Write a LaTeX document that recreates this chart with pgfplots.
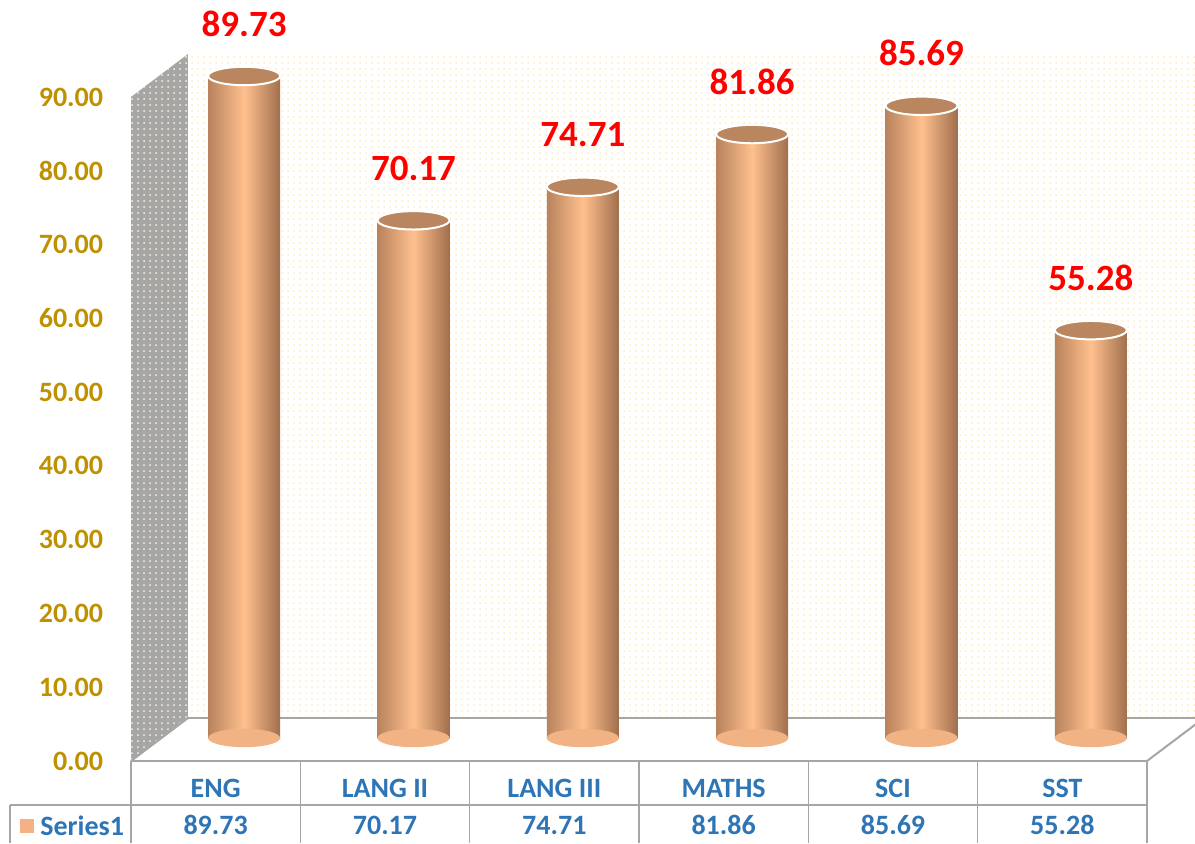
\documentclass[border=0pt]{standalone}
\usepackage{pgfplots}
\pgfplotsset{compat=1.18}
\usepackage{pgfplotstable}
\usepackage{fontspec}
\setmainfont{Carlito}
\usetikzlibrary{patterns}

\definecolor{cylL}{HTML}{B8835D}
\definecolor{cylM}{HTML}{FFC08E}
\definecolor{cylR}{HTML}{A06F4D}
\definecolor{cyltop}{HTML}{BA865F}
\definecolor{cylbase}{HTML}{F2B384}
\definecolor{gold}{HTML}{BF9000}
\definecolor{xblue}{HTML}{2E75B6}
\definecolor{wallgray}{HTML}{A6A6A6}
\definecolor{linegray}{HTML}{A6A6A6}
\definecolor{dotyellow}{HTML}{FFE08A}
\definecolor{legpeach}{HTML}{F4B183}

\pgfdeclareplotmark{cyltopmark}{%
  \pgfpathellipse{\pgfpointorigin}{\pgfqpoint{18pt}{0pt}}{\pgfqpoint{0pt}{4.6pt}}%
  \pgfusepathqfillstroke}
\pgfdeclareplotmark{cylbasemark}{%
  \pgfpathellipse{\pgfpointorigin}{\pgfqpoint{18pt}{0pt}}{\pgfqpoint{0pt}{4.6pt}}%
  \pgfusepathqfill}

\pgfplotstableread{
x value
0 89.73
1 70.17
2 74.71
3 81.86
4 85.69
5 55.28
}\data

\begin{document}
\begin{tikzpicture}
\useasboundingbox (0,0) rectangle (597.5pt,421.5pt);
% left wall
\fill[wallgray, postaction={pattern=dots, pattern color=dotyellow!45}]
  (65.5pt,41pt) -- (65.5pt,373pt) -- (94pt,394.5pt) -- (94pt,62.5pt) -- cycle;
% back wall
\fill[white, postaction={pattern=dots, pattern color=dotyellow!60}]
  (94pt,62.5pt) rectangle (600pt,394.5pt);
% floor
\fill[white] (65.5pt,41pt) -- (94pt,62.5pt) -- (602pt,62.5pt) -- (573.5pt,41pt) -- cycle;
\draw[linegray, line width=1pt] (94pt,62.5pt) -- (600pt,62.5pt);
\draw[linegray, line width=1pt] (65.5pt,41pt) -- (94pt,62.5pt);
\draw[linegray, line width=1pt] (573.5pt,41pt) -- (602pt,62.5pt);
\draw[linegray, line width=1pt] (65.5pt,41pt) -- (573.5pt,41pt);
% table grid
\foreach \xx in {65.5,150.17,234.83,319.5,404.17,488.83,573.5}
  \draw[linegray, line width=0.8pt] (\xx pt,41pt) -- (\xx pt,0pt);
\draw[linegray, line width=0.8pt] (5pt,19pt) -- (573.5pt,19pt);
\draw[linegray, line width=0.8pt] (5pt,19pt) -- (5pt,0pt);
% legend key in table
\fill[legpeach] (10pt,5pt) rectangle (17pt,12pt);
\node[anchor=base west, inner sep=0pt, font=\bfseries\fontsize{14}{17}\selectfont, text=xblue] at (20pt,4pt) {Series1};

\begin{axis}[
  at={(79.75pt,52.5pt)}, anchor=south west,
  width=508pt, height=332pt, scale only axis,
  xmin=-0.5, xmax=5.5, ymin=0, ymax=90,
  clip=false,
  axis line style={draw=none}, tick style={draw=none},
  xtick={0,1,2,3,4,5},
  xticklabels={{ENG\\89.73},{LANG II\\70.17},{LANG III\\74.71},{MATHS\\81.86},{SCI\\85.69},{SST\\55.28}},
  xticklabel style={align=center, anchor=north, inner sep=0pt, xshift=-14.25pt, yshift=-20.5pt,
    font=\bfseries\fontsize{14}{18.5}\selectfont, text=xblue},
  ytick={0,10,...,90},
  yticklabel style={anchor=east, inner sep=0pt, xshift=-28pt, yshift=-11.5pt,
    font=\bfseries\fontsize{14}{17}\selectfont, text=gold,
    /pgf/number format/fixed, /pgf/number format/fixed zerofill, /pgf/number format/precision=2,
    /pgf/number format/assume math mode=true},
]
\addplot[only marks, mark=cylbasemark, mark options={fill=cylbase, draw=none}]
  table[x=x, y expr=0] {\data};
\pgfplotsinvokeforeach{0,1,2,3,4,5}{
  \addplot[ybar, bar shift=0pt, bar width=36pt, draw=none,
    left color=cylL, right color=cylR, middle color=cylM,
    restrict x to domain=#1:#1]
    table[x=x, y=value] {\data};
}
\addplot[only marks, mark=cyltopmark, mark options={fill=cyltop, draw=white, line width=1pt},
  nodes near coords, point meta=y,
  every node near coord/.append style={anchor=base, inner sep=0pt, yshift=20pt,
    font=\bfseries\fontsize{18.5}{22}\selectfont, text=red,
    /pgf/number format/fixed, /pgf/number format/fixed zerofill, /pgf/number format/precision=2,
    /pgf/number format/assume math mode=true}]
  table[x=x, y=value] {\data};
\end{axis}
\end{tikzpicture}
\end{document}
